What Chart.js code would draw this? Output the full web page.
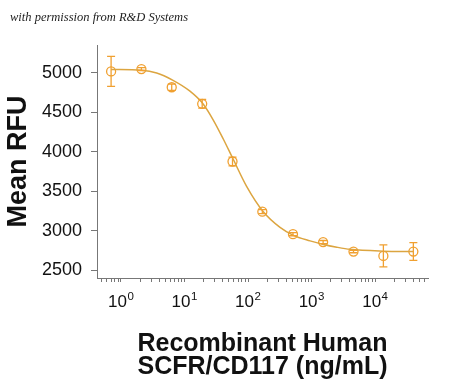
<!DOCTYPE html>
<html><head><meta charset="utf-8">
<script src="https://cdn.jsdelivr.net/npm/chart.js@4.4.1/dist/chart.umd.min.js"></script>
<style>
html,body{margin:0;padding:0;background:#fff;}
#wrap{position:relative;width:450px;height:383px;}
#note{position:absolute;left:10px;top:10px;font:italic 12.5px "Liberation Serif","DejaVu Serif",serif;color:#222;white-space:nowrap;}
canvas{display:block;}
</style></head><body>
<div id="wrap"><canvas id="c" width="450" height="383"></canvas><div id="note">with permission from R&amp;D Systems</div></div>
<script>
// measured points (concentration in ng/mL, Mean RFU, error)
const concentrations = [0.7, 2.1, 6.3, 19, 57, 168, 510, 1520, 4570, 13500, 40000];
const meanRFU = [5015, 5045, 4815, 4605, 3875, 3240, 2955, 2855, 2735, 2680, 2735];
const errRFU = [190, 18, 40, 55, 55, 25, 20, 20, 15, 140, 112];
// fitted curve
const fitX = [0.7, 2.1, 3.65, 6.5, 12.2, 19.8, 28.4, 40.8, 58.7, 95, 174, 319, 517, 947, 1535, 2495, 4040, 13400, 40000];
const fitY = [5040, 5030, 4995, 4905, 4765, 4600, 4400, 4160, 3900, 3560, 3238, 3040, 2940, 2870, 2825, 2790, 2763, 2740, 2735];
// axes
const yTickValues = [2500, 3000, 3500, 4000, 4500, 5000];
const xMajorTicks = [1, 10, 100, 1000, 10000];
const xTickBase = ['10', '10', '10', '10', '10'];
const xTickExp = ['0', '1', '2', '3', '4'];
const xTitle = ['Recombinant Human', 'SCFR/CD117 (ng/mL)'];
const yTitle = 'Mean RFU';

const lineColor = '#dca540';
const pointColor = '#f0a030';
const axisColor = '#777777';
const FONT = '"Liberation Sans", Arial, sans-serif';
const X_MIN = 0.42, X_MAX = 68000, Y_MIN = 2400, Y_MAX = 5350;

const errorBars = {
  id: 'errorBars',
  afterDatasetsDraw(chart) {
    const xs = chart.scales.x, ys = chart.scales.y, ctx = chart.ctx;
    ctx.save();
    ctx.strokeStyle = pointColor;
    ctx.lineWidth = 1.3;
    concentrations.forEach((c, i) => {
      const x = xs.getPixelForValue(c);
      const yT = ys.getPixelForValue(meanRFU[i] + errRFU[i]);
      const yB = ys.getPixelForValue(meanRFU[i] - errRFU[i]);
      ctx.beginPath();
      ctx.moveTo(x, yT); ctx.lineTo(x, yB);
      ctx.moveTo(x - 4, yT); ctx.lineTo(x + 4, yT);
      ctx.moveTo(x - 4, yB); ctx.lineTo(x + 4, yB);
      ctx.stroke();
    });
    ctx.restore();
  }
};

// power-of-ten tick labels with a raised exponent
const powerLabels = {
  id: 'powerLabels',
  afterDraw(chart) {
    const xs = chart.scales.x, ctx = chart.ctx;
    const baseY = xs.top + 29;
    ctx.save();
    ctx.fillStyle = '#111';
    ctx.textBaseline = 'alphabetic';
    ctx.textAlign = 'left';
    xMajorTicks.forEach((v, i) => {
      const x = xs.getPixelForValue(v);
      ctx.font = '17px ' + FONT;
      const wb = ctx.measureText(xTickBase[i]).width;
      ctx.font = '11.5px ' + FONT;
      const we = ctx.measureText(xTickExp[i]).width;
      const x0 = x - (wb + we + 0.5) / 2;
      ctx.font = '17px ' + FONT;
      ctx.fillText(xTickBase[i], x0, baseY);
      ctx.font = '11.5px ' + FONT;
      ctx.fillText(xTickExp[i], x0 + wb + 0.5, baseY - 7.5);
    });
    ctx.restore();
  }
};

new Chart(document.getElementById('c'), {
  type: 'line',
  data: {
    datasets: [
      {
        data: fitX.map((x, i) => ({x, y: fitY[i]})),
        borderColor: lineColor, borderWidth: 1.5,
        pointRadius: 0, cubicInterpolationMode: 'monotone', fill: false
      },
      {
        data: concentrations.map((x, i) => ({x, y: meanRFU[i]})),
        showLine: false, pointStyle: 'circle', pointRadius: 4.5,
        pointBorderColor: pointColor, pointBackgroundColor: 'rgba(255,255,255,0)',
        pointBorderWidth: 1.3
      }
    ]
  },
  options: {
    responsive: false, devicePixelRatio: 1, animation: false,
    layout: {padding: {top: 45, right: 22, left: 0, bottom: 0}},
    plugins: {legend: {display: false}, tooltip: {enabled: false}},
    scales: {
      x: {
        type: 'logarithmic', min: X_MIN, max: X_MAX,
        afterFit: s => { s.height = 105; },
        afterBuildTicks: s => {
          const t = [];
          for (let d = -1; d <= 4; d++) {
            for (let m = 1; m <= 9; m++) {
              const v = m * Math.pow(10, d);
              if (v >= X_MIN && v <= X_MAX) t.push({value: v});
            }
          }
          s.ticks = t;
        },
        ticks: {
          autoSkip: false, maxRotation: 0, padding: 6, color: '#111',
          font: {family: FONT, size: 17},
          callback: () => ''
        },
        grid: {drawOnChartArea: false, drawTicks: true, tickLength: 4, tickColor: axisColor},
        border: {display: true, color: axisColor, width: 1},
        title: {
          display: true, text: xTitle, color: '#111',
          font: {family: FONT, size: 25, weight: 'bold', lineHeight: 0.93},
          padding: {top: 0, bottom: 4}
        }
      },
      y: {
        type: 'linear', min: Y_MIN, max: Y_MAX,
        afterFit: s => { s.width = 97; },
        afterBuildTicks: s => { s.ticks = yTickValues.map(v => ({value: v})); },
        ticks: {
          padding: 9, color: '#111',
          font: {family: FONT, size: 18},
          callback: v => String(v)
        },
        grid: {drawOnChartArea: false, drawTicks: true, tickLength: 6, tickColor: axisColor},
        border: {display: true, color: axisColor, width: 1},
        title: {
          display: true, text: yTitle, color: '#111',
          font: {family: FONT, size: 27, weight: 'bold', lineHeight: 1.2},
          padding: {top: 2, bottom: 0}
        }
      }
    }
  },
  plugins: [errorBars, powerLabels]
});
</script>
</body></html>
